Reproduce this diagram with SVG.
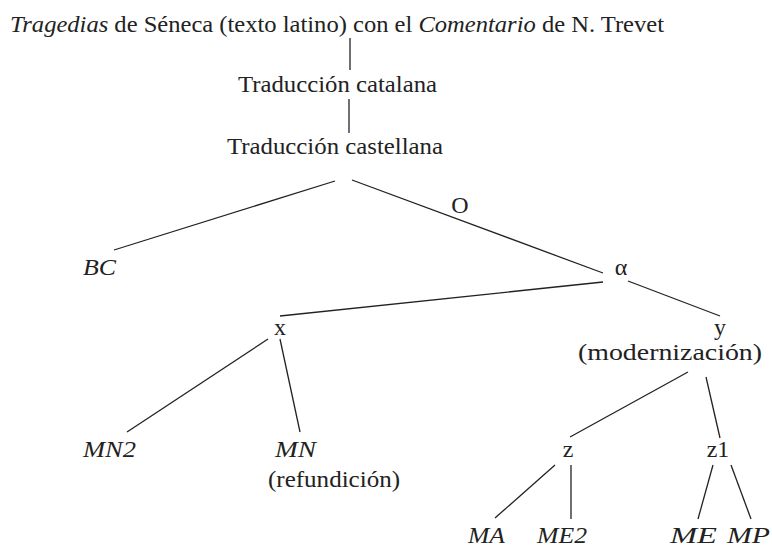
<svg xmlns="http://www.w3.org/2000/svg" width="772" height="549" viewBox="0 0 772 549">
<style>
  text { font-family: "Times New Roman", "Liberation Serif", Tinos, Times, serif; font-size: 24px; fill: #222; }
  .i { font-style: italic; }
  .c { text-anchor: middle; }
  #connectors line { stroke: #222; stroke-width: 1.3; stroke-linecap: butt; }
</style>
<rect width="772" height="549" fill="#fff"/>
<g id="connectors">
  <line x1="350" y1="38" x2="350" y2="70"/>
  <line x1="349" y1="99" x2="349" y2="133"/>
  <line x1="335" y1="181" x2="114" y2="250"/>
  <line x1="352" y1="180" x2="603" y2="273"/>
  <line x1="603" y1="282" x2="280" y2="316"/>
  <line x1="628" y1="281" x2="720" y2="316"/>
  <line x1="268" y1="339" x2="127" y2="432"/>
  <line x1="280" y1="339" x2="300" y2="432"/>
  <line x1="688" y1="372" x2="570" y2="437"/>
  <line x1="706" y1="377" x2="720" y2="438"/>
  <line x1="555" y1="465" x2="495" y2="518"/>
  <line x1="571" y1="465" x2="571" y2="519"/>
  <line x1="713" y1="465" x2="698" y2="519"/>
  <line x1="731" y1="465" x2="751" y2="519"/>
</g>
<g id="root"><text x="10" y="32" textLength="654" lengthAdjust="spacingAndGlyphs"><tspan class="i">Tragedias</tspan> de Séneca (texto latino) con el <tspan class="i">Comentario</tspan> de N. Trevet</text></g>
<g id="catalana"><text x="238" y="92" textLength="199" lengthAdjust="spacingAndGlyphs">Traducción catalana</text></g>
<g id="castellana"><text x="227" y="154" textLength="216" lengthAdjust="spacingAndGlyphs">Traducción castellana</text></g>
<g id="O"><text class="c" x="460" y="213">O</text></g>
<g id="BC"><text class="i" x="83" y="275" textLength="33" lengthAdjust="spacingAndGlyphs">BC</text></g>
<g id="alpha"><text class="c" x="621" y="275">α</text></g>
<g id="x"><text class="c" x="280" y="335">x</text></g>
<g id="y"><text class="c" x="720" y="335">y</text><text x="578" y="360" textLength="184" lengthAdjust="spacingAndGlyphs">(modernización)</text></g>
<g id="MN2"><text class="i" x="83" y="457" textLength="53" lengthAdjust="spacingAndGlyphs">MN2</text></g>
<g id="MN"><text class="i" x="275" y="457" textLength="41" lengthAdjust="spacingAndGlyphs">MN</text><text x="268" y="487" textLength="132" lengthAdjust="spacingAndGlyphs">(refundición)</text></g>
<g id="z"><text class="c" x="568" y="457">z</text></g>
<g id="z1"><text class="c" x="718" y="457">z1</text></g>
<g id="MA"><text class="i" x="468" y="543" textLength="37" lengthAdjust="spacingAndGlyphs">MA</text></g>
<g id="ME2"><text class="i" x="537" y="543" textLength="50" lengthAdjust="spacingAndGlyphs">ME2</text></g>
<g id="ME"><text class="i" x="670" y="543" textLength="47" lengthAdjust="spacingAndGlyphs">ME</text></g>
<g id="MP"><text class="i" x="727" y="543" textLength="43" lengthAdjust="spacingAndGlyphs">MP</text></g>
</svg>
